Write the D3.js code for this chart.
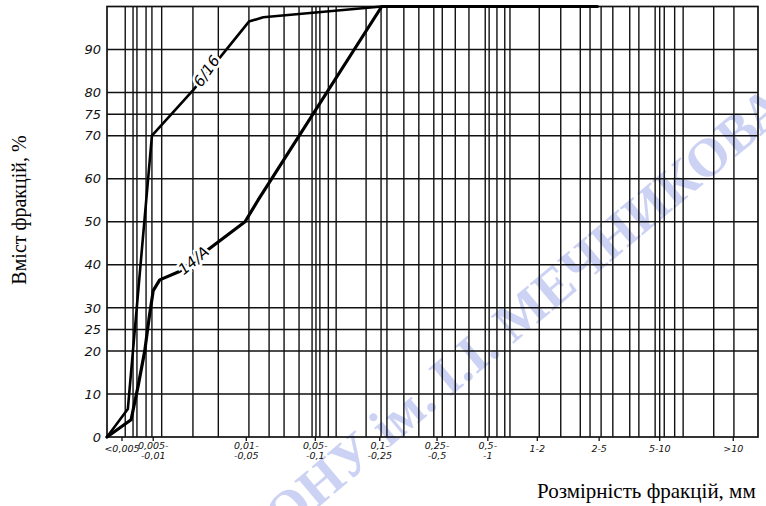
<!DOCTYPE html>
<html>
<head>
<meta charset="utf-8">
<script src="https://cdn.jsdelivr.net/npm/d3@7"></script>
<style>
  html, body { margin: 0; padding: 0; background: #fff; }
  svg { display: block; }
</style>
</head>
<body>
<svg id="chart" width="766" height="506"></svg>
<script>
// Grain-size curves on semi-log paper. The horizontal paper scale is
// non-uniform, so x values are given in paper divisions (0..100 across the sheet).

// Size fractions printed under the axis and their place on the paper
const fractionLabels = [
  ["<0,005"], ["0,005-", "-0,01"], ["0,01-", "-0,05"], ["0,05-", "-0,1"],
  ["0,1-", "-0,25"], ["0,25-", "-0,5"], ["0,5-", "-1"], ["1-2"], ["2-5"], ["5-10"], [">10"]
];
const fractionPos = [2.3, 7.1, 21.4, 32.0, 41.9, 50.7, 58.5, 66.1, 75.6, 84.9, 96.2];

// Percentage ticks and horizontal rulings of the paper
const percentTicks = [0, 10, 20, 25, 30, 40, 50, 60, 70, 75, 80, 90];
const percentGrid = [10, 20, 25, 30, 40, 50, 60, 70, 75, 80, 90];

// Vertical rulings of the paper (paper divisions)
const paperGrid = [2.8, 4.0, 4.6, 6.0, 6.9, 8.4, 13.2, 17.1, 21.8, 24.9, 27.2, 29.5,
  31.5, 32.1, 32.7, 34.0, 35.2, 39.8, 42.1, 43.0, 45.6, 47.9, 50.2, 51.5, 53.5, 55.6,
  58.1, 58.7, 59.9, 61.1, 61.9, 66.4, 69.7, 72.7, 74.2, 75.9, 77.7, 80.3, 81.7, 84.2,
  84.9, 85.6, 87.2, 88.5, 93.2, 96.3];

// Cumulative curves: sample 6/16
const s616x = [0, 3.2, 6.9, 13.2, 17.8, 21.8, 24.0, 42.2, 75.3];
const s616y = [0, 6.5, 70, 80.5, 89, 96.5, 97.5, 100, 100];
// Cumulative curves: sample 14/A
const s14ax = [0, 3.7, 4.8, 5.8, 6.5, 7.1, 8.1, 11.2, 15.5, 21.2, 23.2, 42.2, 75.3];
const s14ay = [0, 4, 12, 20, 28, 34, 36.5, 38.5, 43.5, 50, 55, 100, 100];

const svg = d3.select("#chart");
const plotLeft = 107, plotRight = 758, plotTop = 6.5, plotBottom = 437;

const x = d3.scaleLinear().domain([0, 100]).range([plotLeft, plotRight]);
const y = d3.scaleLinear().domain([0, 100]).range([plotBottom, plotTop]);

const hand = "'DejaVu Sans', sans-serif";

// Watermark
svg.append("text")
  .attr("transform", "translate(284,536) rotate(-40)")
  .attr("font-family", "'Liberation Serif', serif")
  .attr("font-weight", "bold")
  .attr("font-size", 54)
  .attr("fill", "#bcc3ef")
  .attr("opacity", 0.75)
  .text("ОНУ ім. І.І. МЕЧНИКОВА");

const grid = svg.append("g").attr("stroke", "#111").attr("fill", "none");

grid.selectAll("line.v").data(paperGrid).join("line")
  .attr("class", "v")
  .attr("x1", d => x(d)).attr("x2", d => x(d))
  .attr("y1", y(0)).attr("y2", y(100))
  .attr("stroke-width", 1.4);

grid.selectAll("line.h").data(percentGrid).join("line")
  .attr("class", "h")
  .attr("x1", x(0)).attr("x2", x(100))
  .attr("y1", d => y(d)).attr("y2", d => y(d))
  .attr("stroke-width", 1.5);

// Frame
grid.append("rect")
  .attr("x", x(0)).attr("y", y(100))
  .attr("width", x(100) - x(0)).attr("height", y(0) - y(100))
  .attr("stroke-width", 1.7);

// Small ticks below the axis at each fraction
grid.selectAll("line.t").data(fractionPos).join("line")
  .attr("class", "t")
  .attr("x1", d => x(d)).attr("x2", d => x(d))
  .attr("y1", y(0)).attr("y2", y(0) + 4)
  .attr("stroke-width", 1.3);

// Y axis labels
const yAxis = d3.axisLeft(y).tickValues(percentTicks).tickSize(0).tickPadding(6)
  .tickFormat(d3.format("d"));
const ya = svg.append("g").attr("transform", `translate(${x(0)},0)`).call(yAxis);
ya.select(".domain").remove();
ya.selectAll("text")
  .attr("font-family", hand).attr("font-style", "italic")
  .attr("font-size", 13).attr("fill", "#111");

// X fraction labels
const xl = svg.append("g").attr("font-family", hand).attr("font-style", "italic")
  .attr("font-size", 9.5).attr("fill", "#111").attr("text-anchor", "middle");
xl.selectAll("text").data(fractionLabels).join("text")
  .attr("x", (d, i) => x(fractionPos[i]))
  .attr("y", d => d.length > 1 ? y(0) + 12 : y(0) + 15)
  .each(function (d) {
    const t = d3.select(this);
    d.forEach((s, k) => {
      t.append("tspan").attr("x", t.attr("x")).attr("dy", k === 0 ? 0 : 10).text(s);
    });
  });

// Curves
const line = d3.line().x(d => x(d[0])).y(d => y(d[1]));
const curves = [
  { name: "6/16", pts: d3.zip(s616x, s616y), w: 2.6 },
  { name: "14/A", pts: d3.zip(s14ax, s14ay), w: 3.2 }
];
svg.append("g").selectAll("path").data(curves).join("path")
  .attr("d", d => line(d.pts))
  .attr("fill", "none").attr("stroke", "#000")
  .attr("stroke-width", d => d.w)
  .attr("stroke-linejoin", "round").attr("stroke-linecap", "round");

// Curve names written along the lines
const tags = [
  { text: "6/16", xv: 15.3, yv: 85, rot: -55 },
  { text: "14/А", xv: 13.3, yv: 41, rot: -40 }
];
svg.append("g").selectAll("text").data(tags).join("text")
  .attr("transform", d => `translate(${x(d.xv)},${y(d.yv)}) rotate(${d.rot})`)
  .attr("text-anchor", "middle").attr("dy", "0.35em")
  .attr("font-family", hand).attr("font-style", "italic").attr("font-size", 15)
  .attr("fill", "#000").attr("stroke", "#fff").attr("stroke-width", 5)
  .attr("paint-order", "stroke")
  .text(d => d.text);

// Axis titles
svg.append("text")
  .attr("transform", "translate(26,210) rotate(-90)")
  .attr("text-anchor", "middle")
  .attr("font-family", "'Liberation Serif', serif").attr("font-size", 20)
  .attr("fill", "#000")
  .text("Вміст фракцій, %");

svg.append("text")
  .attr("x", 537).attr("y", 498)
  .attr("font-family", "'Liberation Serif', serif").attr("font-size", 21)
  .attr("fill", "#000")
  .text("Розмірність фракцій, мм");
</script>
</body>
</html>
